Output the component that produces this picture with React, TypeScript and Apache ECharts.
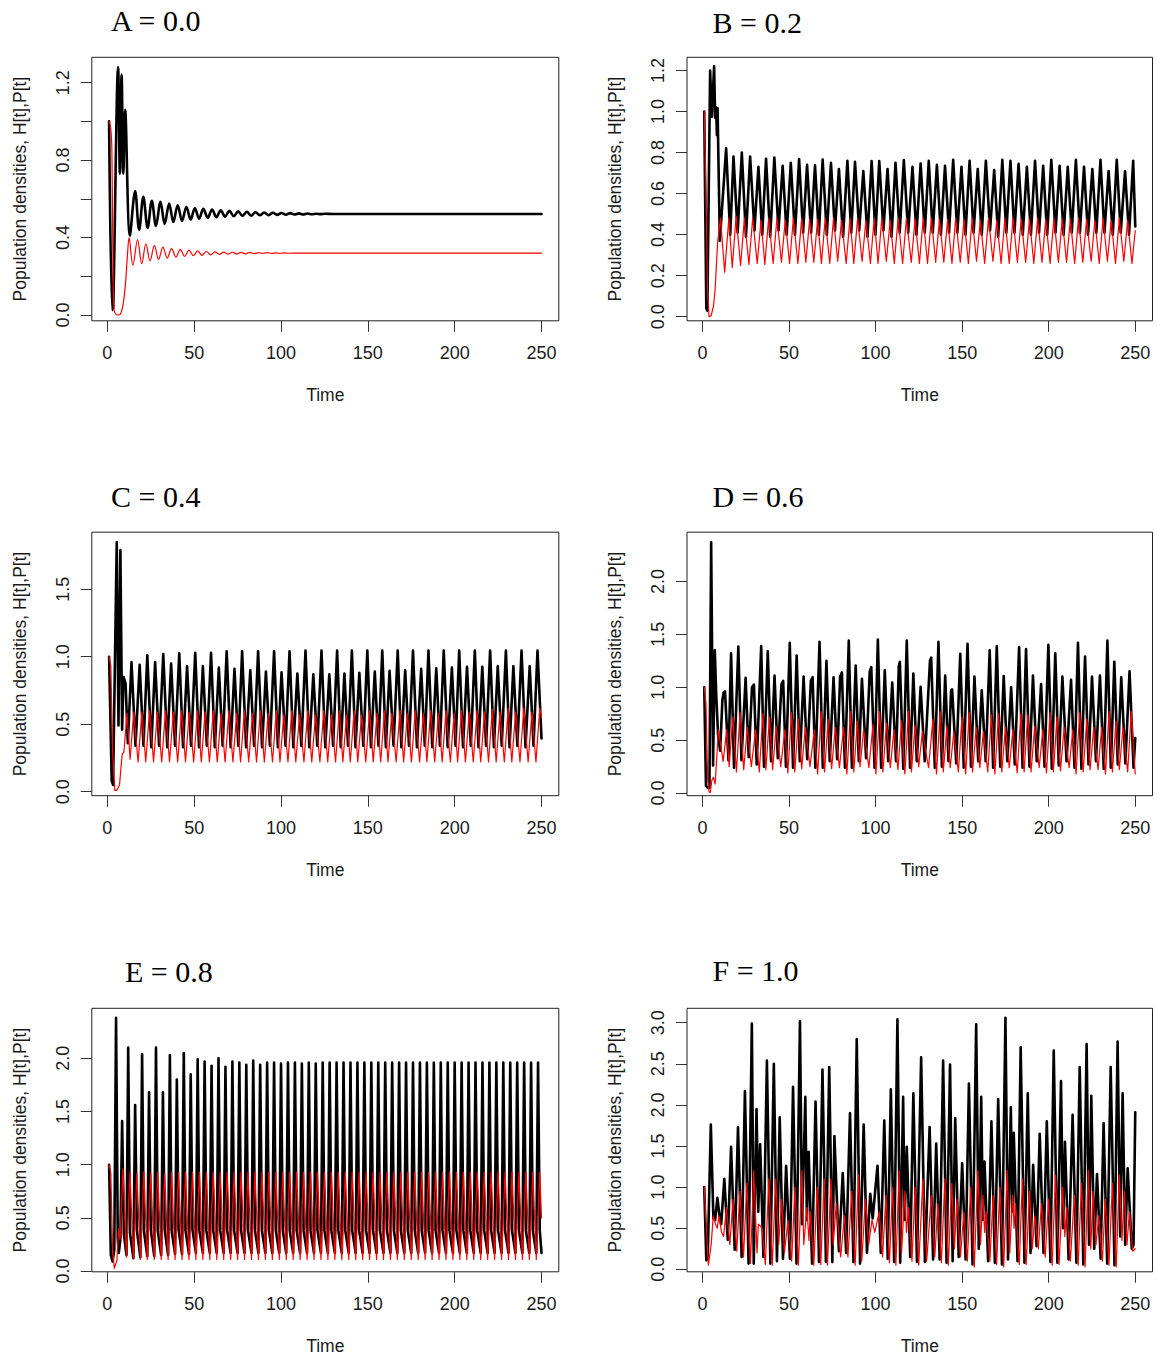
import React, { useEffect, useRef } from "react";
import * as echarts from "echarts";

type Pt = [number, number];

// ---------------- data ----------------
const TITLES = ["A = 0.0", "B = 0.2", "C = 0.4", "D = 0.6", "E = 0.8", "F = 1.0"];
const X_NAME = "Time";
const Y_NAME = "Population densities, H[t],P[t]";
const X_TICKS = [0, 50, 100, 150, 200, 250];
const X_RANGE: [number, number] = [-8.96, 259.96];

const Y_RANGES: [number, number][] = [
  [-0.03, 1.331],
  [-0.02, 1.264],
  [-0.03, 1.923],
  [-0.025, 2.465],
  [-0.007, 2.47],
  [-0.03, 3.175],
];
const Y_TICKS: number[][] = [
  [0, 0.2, 0.4, 0.6, 0.8, 1.0, 1.2],
  [0, 0.2, 0.4, 0.6, 0.8, 1.0, 1.2],
  [0, 0.5, 1.0, 1.5],
  [0, 0.5, 1.0, 1.5, 2.0],
  [0, 0.5, 1.0, 1.5, 2.0],
  [0, 0.5, 1.0, 1.5, 2.0, 2.5, 3.0],
];
const Y_LABELS: number[][] = [
  [0, 0.4, 0.8, 1.2],
  [0, 0.2, 0.4, 0.6, 0.8, 1.0, 1.2],
  [0, 0.5, 1.0, 1.5],
  [0, 0.5, 1.0, 1.5, 2.0],
  [0, 0.5, 1.0, 1.5, 2.0],
  [0, 0.5, 1.0, 1.5, 2.0, 2.5, 3.0],
];

// Panel A (H black, P red)
const A_H: Pt[] = [[1,1.0],[2.8,0.025],[3.4,0.04],[6.2,1.28],[7.2,0.73],[8.2,1.24],[9.2,0.73],[10.2,1.06],[13,0.41],[16,0.64],[18.3,0.44],[20.7,0.61],[23.2,0.45],[25.6,0.59],[28,0.46],[30.6,0.585],[33,0.47],[35.6,0.575],[38,0.48],[40.5,0.567],[43,0.486],[45.5,0.558],[48,0.493],[50.4,0.553],[52.8,0.498],[55.3,0.548],[57.8,0.502],[60.3,0.545],[62.8,0.505],[65.3,0.541],[67.8,0.508],[70.3,0.538],[72.8,0.51],[75.3,0.535],[77.8,0.512],[80.3,0.533],[82.8,0.513],[85.3,0.531],[87.8,0.515],[90.3,0.529],[92.8,0.516],[95.3,0.528],[97.8,0.517],[100.3,0.527],[102.8,0.518],[105.3,0.526],[107.8,0.519],[110.3,0.525],[112.8,0.519],[115.3,0.524],[117.8,0.52],[120.3,0.523],[122.8,0.521],[125.3,0.523],[130,0.522],[250,0.522]];
const A_P: Pt[] = [[1,1.0],[2,0.96],[2.6,0.85],[3.2,0.3],[3.8,0.03],[5,0.003],[6.5,0.0],[7.5,0.005],[8.5,0.03],[9.5,0.08],[10.5,0.17],[11.5,0.3],[12.5,0.4],[14.7,0.256],[17.4,0.389],[19.8,0.265],[22.2,0.368],[24.6,0.28],[27.1,0.36],[29.5,0.287],[32,0.351],[34.5,0.294],[37,0.343],[39.5,0.299],[42,0.339],[44.5,0.302],[47,0.335],[49.5,0.306],[52,0.331],[54.5,0.308],[57,0.328],[59.5,0.311],[62,0.326],[64.5,0.313],[67,0.325],[69.5,0.314],[72,0.324],[74.5,0.315],[77,0.323],[79.5,0.316],[82,0.323],[84.5,0.317],[87,0.322],[89.5,0.318],[92,0.322],[94.5,0.318],[97,0.321],[99.5,0.319],[102,0.321],[104.5,0.319],[110,0.32],[250,0.32]];

// Panel B
const B_H: Pt[] = [[1,1.0],[2.2,0.04],[2.8,0.03],[4.4,1.2],[5.4,0.975],[6.7,1.22],[7.3,0.97],[7.9,1.02],[8.3,0.885],[8.7,1.015],[10,0.37],[13.65,0.82],[16,0.4],[17.9,0.78],[20.3,0.41],[22.7,0.8],[25.1,0.39],[27.5,0.78],[30,0.42],[32.3,0.73],[34.5,0.4],[36.7,0.77],[39.1,0.39],[41.5,0.775],[43.9,0.42],[46.3,0.735],[48.6,0.4],[51,0.75],[53.4,0.4],[55.8,0.768],[58.1,0.41],[60.4,0.74],[62.7,0.41],[65,0.738],[67.2,0.4],[69.4,0.766],[71.8,0.4],[74.2,0.75],[76.5,0.42],[78.8,0.72],[81.2,0.39],[83.7,0.76],[85.9,0.41],[88.1,0.755],[90.5,0.42],[92.9,0.71],[95.3,0.39],[97.7,0.758],[99.9,0.4],[102.1,0.758],[104.5,0.42],[106.9,0.72],[109.2,0.39],[111.5,0.75],[113.9,0.41],[116.3,0.763],[118.8,0.41],[121.3,0.73],[123.6,0.4],[126,0.746],[128.4,0.41],[130.7,0.76],[133,0.41],[135.4,0.74],[137.7,0.4],[140.1,0.735],[142.4,0.41],[144.8,0.765],[147.2,0.41],[149.6,0.73],[151.9,0.4],[154.3,0.76],[156.6,0.41],[159,0.72],[161.3,0.4],[163.7,0.76],[166.1,0.42],[168.5,0.715],[170.8,0.39],[173.2,0.765],[175.5,0.41],[177.9,0.76],[180.2,0.41],[182.6,0.745],[185,0.4],[187.4,0.73],[189.7,0.4],[192.1,0.76],[194.4,0.41],[196.8,0.735],[199.1,0.4],[201.5,0.765],[203.9,0.41],[206.3,0.735],[208.6,0.4],[211,0.73],[213.3,0.41],[215.7,0.765],[218,0.41],[220.4,0.73],[222.7,0.4],[225.2,0.72],[227.5,0.41],[229.9,0.765],[232.2,0.41],[234.6,0.71],[237,0.4],[239.3,0.765],[241.6,0.41],[244.1,0.71],[246.4,0.4],[248.8,0.76],[250,0.44]];
const B_P: Pt[] = [[1,1.0],[2,0.62],[2.9,0.13],[3.8,0.0],[5,0.005],[6.3,0.05],[7.3,0.135],[8.7,0.36],[10.4,0.48],[12.8,0.217],[15.2,0.48],[17.2,0.24],[19.4,0.49],[22,0.25],[24.2,0.48],[26.8,0.255],[29,0.48],[31.6,0.26],[33.8,0.47],[36,0.255],[38.2,0.48],[40.8,0.26],[43,0.48],[45.6,0.265],[47.8,0.47],[50.3,0.26],[52.5,0.48],[55.1,0.26],[57.3,0.48],[59.7,0.265],[61.9,0.475],[64.3,0.265],[66.5,0.475],[68.7,0.26],[70.9,0.48],[73.5,0.26],[75.7,0.48],[78.1,0.27],[80.3,0.47],[83,0.26],[85.2,0.48],[87.4,0.26],[89.6,0.48],[92.2,0.27],[94.4,0.47],[97,0.26],[99.2,0.48],[101.4,0.26],[103.6,0.48],[106.2,0.27],[108.4,0.47],[110.8,0.26],[113,0.48],[115.6,0.26],[117.8,0.48],[120.6,0.265],[122.8,0.475],[125.3,0.26],[127.5,0.48],[130,0.26],[132.2,0.48],[134.7,0.265],[136.9,0.475],[139.4,0.265],[141.6,0.475],[144.1,0.26],[146.3,0.48],[148.9,0.265],[151.1,0.475],[153.6,0.26],[155.8,0.48],[158.3,0.27],[160.5,0.47],[163,0.26],[165.2,0.48],[167.8,0.27],[170,0.47],[172.5,0.26],[174.7,0.48],[177.2,0.26],[179.4,0.48],[181.9,0.265],[184.1,0.475],[186.7,0.265],[188.9,0.475],[191.4,0.26],[193.6,0.48],[196.1,0.265],[198.3,0.475],[200.8,0.26],[203,0.48],[205.6,0.265],[207.8,0.475],[210.3,0.265],[212.5,0.475],[215,0.26],[217.2,0.48],[219.7,0.265],[221.9,0.475],[224.5,0.27],[226.7,0.47],[229.2,0.26],[231.4,0.48],[233.9,0.27],[236.1,0.47],[238.6,0.26],[240.8,0.48],[243.4,0.27],[245.6,0.47],[248.1,0.26],[250,0.42]];

// Panel C
const C_H: Pt[] = [[1,1.0],[2.5,0.08],[3.3,0.05],[5.4,1.85],[6.4,0.49],[7.5,1.79],[8.5,0.46],[9.3,0.85],[10.5,0.8],[11.8,0.36],[13.9,0.96],[16.2,0.34],[18.6,0.94],[20.8,0.34],[23,1.01],[25.3,0.33],[27.5,0.96],[29.8,0.34],[32.2,1.02],[34.5,0.33],[36.7,0.95],[39,0.34],[41.4,1.025],[43.6,0.33],[45.9,0.93],[48.2,0.34],[50.6,1.03],[52.8,0.33],[55,0.93],[57.3,0.34],[59.7,1.03],[61.9,0.33],[64.2,0.92],[66.4,0.34],[68.7,1.04],[71,0.33],[73.2,0.91],[75.4,0.34],[77.6,1.04],[79.9,0.33],[82.3,0.9],[84.5,0.34],[86.8,1.04],[89.1,0.33],[91.3,0.89],[93.6,0.34],[96,1.04],[98.2,0.33],[100.3,0.885],[102.6,0.34],[104.9,1.04],[107.1,0.33],[109.4,0.875],[111.7,0.34],[114.1,1.045],[116.3,0.33],[118.6,0.87],[120.9,0.34],[123.3,1.045],[125.5,0.33],[127.8,0.87],[130,0.34],[132.3,1.045],[134.4,0.33],[136.5,0.875],[138.6,0.34],[140.8,1.045],[142.9,0.33],[145.1,0.88],[147.4,0.34],[149.7,1.045],[151.8,0.33],[154,0.89],[156.1,0.34],[158.3,1.045],[160.4,0.33],[162.5,0.895],[164.8,0.34],[167.2,1.045],[169.3,0.33],[171.5,0.9],[173.7,0.34],[176,1.045],[178.3,0.33],[180.7,0.91],[182.8,0.34],[184.9,1.045],[187.1,0.33],[189.4,0.915],[191.5,0.34],[193.7,1.045],[196,0.33],[198.4,0.92],[200.5,0.34],[202.6,1.045],[204.8,0.33],[207.1,0.925],[209.3,0.34],[211.6,1.045],[213.7,0.33],[215.9,0.925],[218.1,0.34],[220.4,1.045],[222.6,0.33],[224.8,0.93],[227.1,0.34],[229.5,1.045],[231.6,0.33],[233.8,0.93],[236.1,0.34],[238.5,1.045],[240.8,0.33],[243.2,0.93],[245.4,0.34],[247.7,1.045],[250,0.395]];
const C_P: Pt[] = [[1,1.0],[2,0.93],[3,0.3],[4.3,0.01],[5.5,0.01],[7,0.05],[8,0.2],[8.6,0.28],[9.5,0.29],[10.5,0.45],[11.3,0.58],[13.1,0.24],[15.2,0.59],[17.7,0.22],[19.9,0.59],[22.1,0.22],[24.3,0.6],[26.6,0.22],[28.8,0.59],[31.3,0.22],[33.5,0.6],[35.8,0.22],[38,0.59],[40.5,0.22],[42.7,0.6],[45,0.22],[47.2,0.59],[49.7,0.22],[51.9,0.6],[54.1,0.22],[56.3,0.59],[58.8,0.22],[61,0.6],[63.3,0.22],[65.5,0.58],[67.8,0.22],[70,0.6],[72.3,0.22],[74.5,0.58],[76.7,0.22],[78.9,0.6],[81.4,0.22],[83.6,0.58],[85.9,0.22],[88.1,0.6],[90.4,0.22],[92.6,0.58],[95.1,0.22],[97.3,0.6],[99.4,0.22],[101.6,0.57],[104,0.22],[106.2,0.6],[108.5,0.22],[110.7,0.57],[113.2,0.22],[115.4,0.6],[117.7,0.22],[119.9,0.57],[122.4,0.22],[124.6,0.6],[126.9,0.22],[129.1,0.57],[131.4,0.22],[133.6,0.6],[135.6,0.22],[137.8,0.57],[139.9,0.22],[142.1,0.6],[144.2,0.22],[146.4,0.57],[148.8,0.22],[151,0.6],[153.1,0.22],[155.3,0.58],[157.4,0.22],[159.6,0.6],[161.6,0.22],[163.8,0.58],[166.3,0.22],[168.5,0.6],[170.6,0.22],[172.8,0.58],[175.1,0.22],[177.3,0.6],[179.8,0.22],[182,0.58],[184,0.22],[186.2,0.6],[188.5,0.22],[190.7,0.58],[192.8,0.22],[195,0.6],[197.5,0.22],[199.7,0.58],[201.7,0.22],[203.9,0.6],[206.2,0.22],[208.4,0.59],[210.7,0.22],[212.9,0.6],[215,0.22],[217.2,0.59],[219.5,0.22],[221.7,0.61],[223.9,0.22],[226.1,0.59],[228.6,0.22],[230.8,0.62],[232.9,0.22],[235.1,0.59],[237.6,0.22],[239.8,0.62],[242.3,0.22],[244.5,0.59],[246.8,0.22],[249,0.62],[250,0.55]];

// Panel D
const D_H: Pt[] = [[1,1.0],[2,0.07],[3,0.05],[4,0.05],[5,2.37],[6.1,0.26],[7.1,1.35],[8,0.9],[9,0.55],[10.2,0.4],[11.5,0.88],[12.2,0.95],[13,0.96],[15,0.31],[16.5,1.32],[18.2,0.24],[20.7,1.385],[22.5,0.31],[24.9,1.09],[26.7,0.34],[28.6,1.0],[29.7,1.025],[31.3,0.27],[33.9,1.39],[35.5,0.25],[37.7,1.34],[39.6,0.3],[41.6,1.11],[43.5,0.33],[45.6,1.03],[46.6,1.06],[48.2,0.25],[50.4,1.42],[52.3,0.24],[54.4,1.3],[56.2,0.3],[58.4,1.1],[60.5,0.32],[62.6,1.06],[63.6,1.095],[65.2,0.24],[67.6,1.43],[69.5,0.24],[71.6,1.25],[73.5,0.3],[75.7,1.095],[77.8,0.32],[79.5,1.1],[80.5,1.14],[82.3,0.24],[84.5,1.44],[86.3,0.24],[88.5,1.205],[90.3,0.3],[92.1,1.08],[94.5,0.33],[96.6,1.15],[97.5,1.19],[99.4,0.24],[101.3,1.45],[103.2,0.24],[105.3,1.16],[107.3,0.3],[109.6,1.045],[111.8,0.3],[113.4,1.2],[114,1.24],[116,0.23],[118,1.44],[119.9,0.24],[121.8,1.13],[123.8,0.3],[126,1.005],[128.4,0.3],[131.4,1.25],[132.1,1.28],[134.2,0.24],[136.3,1.43],[138.3,0.25],[140.2,1.11],[142.1,0.3],[143.6,0.97],[144.2,0.98],[146.6,0.28],[148.9,1.315],[150.9,0.24],[153.1,1.41],[155.1,0.25],[157.1,1.1],[159.3,0.3],[161.3,0.97],[163.6,0.3],[165.9,1.35],[167.9,0.24],[170,1.39],[172,0.25],[174,1.105],[176.1,0.3],[178.3,1.0],[180.4,0.27],[182.9,1.38],[184.9,0.24],[186.9,1.36],[188.9,0.25],[190.9,1.11],[193.1,0.3],[195.6,1.03],[197.6,0.25],[199.8,1.4],[201.8,0.23],[203.8,1.32],[205.8,0.26],[207.9,1.1],[210.3,0.3],[212.9,1.07],[214.9,0.24],[216.9,1.42],[218.9,0.23],[221,1.29],[223,0.27],[225,1.1],[227.3,0.3],[229.6,1.11],[231.8,0.23],[233.9,1.44],[235.9,0.24],[237.9,1.24],[239.9,0.27],[241.9,1.095],[244.3,0.28],[246.7,1.15],[249,0.24],[250,0.52]];
const D_P: Pt[] = [[1,1.0],[2,0.85],[3,0.12],[3.8,0.01],[4.5,0.005],[5.4,0.12],[6.3,0.15],[7.3,0.085],[9.2,0.6],[11.9,0.3],[14,0.6],[15.4,0.25],[17.5,0.72],[19.6,0.2],[21.7,0.76],[23.8,0.22],[25.9,0.62],[28.2,0.25],[30.7,0.6],[32.8,0.2],[34.9,0.75],[36.6,0.22],[38.7,0.72],[40.5,0.22],[42.6,0.63],[45.2,0.25],[47.6,0.6],[49.3,0.19],[51.4,0.76],[53.3,0.2],[55.4,0.7],[57.3,0.23],[59.4,0.62],[62.1,0.25],[64.6,0.6],[66.5,0.18],[68.6,0.77],[70.5,0.2],[72.6,0.7],[74.6,0.23],[76.7,0.62],[79.1,0.24],[81.5,0.62],[83.4,0.18],[85.5,0.77],[87.4,0.2],[89.5,0.68],[91,0.25],[93.1,0.6],[96.1,0.24],[98.5,0.65],[100.2,0.18],[102.3,0.77],[104.2,0.2],[106.3,0.66],[108.5,0.24],[110.6,0.6],[112.9,0.22],[115,0.68],[116.9,0.18],[119,0.77],[120.7,0.2],[122.8,0.64],[124.9,0.25],[127,0.58],[130.6,0.24],[133.1,0.7],[135.2,0.18],[137.3,0.77],[139.1,0.2],[141.2,0.63],[143.1,0.24],[145.2,0.58],[147.8,0.2],[149.9,0.72],[152,0.18],[154.1,0.76],[156,0.2],[158.1,0.62],[160.2,0.24],[162.3,0.58],[164.8,0.2],[166.9,0.74],[168.9,0.18],[171,0.75],[172.9,0.2],[175,0.62],[177.2,0.24],[179.3,0.6],[181.8,0.19],[183.9,0.75],[185.8,0.2],[187.9,0.74],[189.8,0.2],[191.9,0.63],[194.5,0.24],[196.6,0.6],[198.7,0.19],[200.8,0.76],[202.7,0.2],[204.8,0.72],[206.8,0.21],[208.9,0.62],[211.8,0.24],[213.9,0.6],[215.8,0.18],[217.9,0.76],[219.9,0.2],[222,0.7],[223.9,0.22],[226,0.62],[228.5,0.22],[230.6,0.62],[232.8,0.18],[234.9,0.77],[236.8,0.2],[238.9,0.68],[240.8,0.22],[242.9,0.62],[245.6,0.2],[247.7,0.77],[250,0.18]];

// Panel E
const E_H: Pt[] = [[1,1.0],[2,0.15],[3,0.09],[4,0.2],[5,2.38],[6,0.3],[6.6,0.17],[7.5,0.3],[8.5,1.41],[9.5,0.35],[11,0.15],[12,2.1],[13,0.36],[15,0.12],[16,1.56],[17,0.38],[19,0.13],[20,2.04],[21,0.38],[23,0.14],[24,1.68],[25,0.39],[27,0.14],[28,2.1],[29,0.38],[31,0.15],[32,1.68],[33,0.39],[35,0.15],[36,2.03],[37,0.38],[39,0.16],[40,1.8],[41,0.39],[43,0.16],[44,2.05],[45,0.38],[47,0.16],[48,1.85],[49,0.39],[51,0.17],[52,1.99],[53,0.38],[55,0.17],[56,1.97],[57,0.38],[59,0.17],[60,1.93],[61,0.38],[63,0.17],[64,2.0],[65,0.38],[67,0.17],[68,1.92],[69,0.38],[71,0.17],[72,1.97],[73,0.38],[75,0.17],[76,1.96],[77,0.38],[79,0.17],[80,1.94],[81,0.38],[83,0.17],[84,1.98],[85,0.38],[87,0.17],[88,1.94],[89,0.38],[91,0.17],[92,1.96],[93,0.38],[95,0.17],[96,1.96],[97,0.38],[99,0.17],[100,1.95],[101,0.38],[103,0.17],[104,1.96],[105,0.38],[107,0.17],[108,1.96],[109,0.38],[111,0.17],[112,1.95],[113,0.38],[115,0.17],[116,1.96],[117,0.38],[119,0.17],[120,1.95],[121,0.38],[123,0.17],[124,1.96],[125,0.38],[127,0.17],[128,1.96],[129,0.38],[131,0.17],[132,1.96],[133,0.38],[135,0.17],[136,1.96],[137,0.38],[139,0.17],[140,1.96],[141,0.38],[143,0.17],[144,1.96],[145,0.38],[147,0.17],[148,1.96],[149,0.38],[151,0.17],[152,1.96],[153,0.38],[155,0.17],[156,1.96],[157,0.38],[159,0.17],[160,1.96],[161,0.38],[163,0.17],[164,1.96],[165,0.38],[167,0.17],[168,1.96],[169,0.38],[171,0.17],[172,1.96],[173,0.38],[175,0.17],[176,1.96],[177,0.38],[179,0.17],[180,1.96],[181,0.38],[183,0.17],[184,1.96],[185,0.38],[187,0.17],[188,1.96],[189,0.38],[191,0.17],[192,1.96],[193,0.38],[195,0.17],[196,1.96],[197,0.38],[199,0.17],[200,1.96],[201,0.38],[203,0.17],[204,1.96],[205,0.38],[207,0.17],[208,1.96],[209,0.38],[211,0.17],[212,1.96],[213,0.38],[215,0.17],[216,1.96],[217,0.38],[219,0.17],[220,1.96],[221,0.38],[223,0.17],[224,1.96],[225,0.38],[227,0.17],[228,1.96],[229,0.38],[231,0.17],[232,1.96],[233,0.38],[235,0.17],[236,1.96],[237,0.38],[239,0.17],[240,1.96],[241,0.38],[243,0.17],[244,1.96],[245,0.38],[247,0.17],[248,1.96],[249,0.38],[250,0.17]];
const E_P: Pt[] = [[1,1.0],[2,0.92],[3,0.2],[4,0.025],[5.5,0.1],[6.5,0.4],[7.3,0.3],[9,0.96],[11,0.13],[13,0.93],[15,0.12],[17,0.92],[19,0.11],[21,0.93],[23,0.11],[25,0.92],[27,0.11],[29,0.93],[31,0.11],[33,0.92],[35,0.11],[37,0.93],[39,0.11],[41,0.93],[43,0.11],[45,0.93],[47,0.11],[49,0.93],[51,0.11],[53,0.93],[55,0.11],[57,0.93],[59,0.11],[61,0.93],[63,0.11],[65,0.93],[67,0.11],[69,0.93],[71,0.11],[73,0.93],[75,0.11],[77,0.93],[79,0.11],[81,0.93],[83,0.11],[85,0.93],[87,0.11],[89,0.93],[91,0.11],[93,0.93],[95,0.11],[97,0.93],[99,0.11],[101,0.93],[103,0.11],[105,0.93],[107,0.11],[109,0.93],[111,0.11],[113,0.93],[115,0.11],[117,0.93],[119,0.11],[121,0.93],[123,0.11],[125,0.93],[127,0.11],[129,0.93],[131,0.11],[133,0.93],[135,0.11],[137,0.93],[139,0.11],[141,0.93],[143,0.11],[145,0.93],[147,0.11],[149,0.93],[151,0.11],[153,0.93],[155,0.11],[157,0.93],[159,0.11],[161,0.93],[163,0.11],[165,0.93],[167,0.11],[169,0.93],[171,0.11],[173,0.93],[175,0.11],[177,0.93],[179,0.11],[181,0.93],[183,0.11],[185,0.93],[187,0.11],[189,0.93],[191,0.11],[193,0.93],[195,0.11],[197,0.93],[199,0.11],[201,0.93],[203,0.11],[205,0.93],[207,0.11],[209,0.93],[211,0.11],[213,0.93],[215,0.11],[217,0.93],[219,0.11],[221,0.93],[223,0.11],[225,0.93],[227,0.11],[229,0.93],[231,0.11],[233,0.93],[235,0.11],[237,0.93],[239,0.11],[241,0.93],[243,0.11],[245,0.93],[247,0.11],[249,0.93],[250,0.5]];

// Panel F
const F_H: Pt[] = [[1,1.0],[2.2,0.11],[3,0.13],[4.8,1.76],[6.3,0.62],[7.3,0.6],[8.6,0.87],[10,0.62],[10.8,0.55],[12.6,1.1],[14.6,0.36],[16.5,1.49],[18.6,0.24],[20.5,1.73],[22.6,0.15],[24.5,2.17],[26.6,0.07],[28.5,2.99],[29.6,0.07],[31.2,1.95],[32.2,0.7],[33.3,1.52],[35.2,0.15],[37.2,2.54],[39.2,0.07],[41.2,2.5],[43,0.1],[44.6,1.85],[46.5,0.13],[48.3,1.26],[50.5,0.13],[52.3,2.22],[54.3,0.07],[56.3,3.02],[57.5,0.55],[59.4,2.1],[60.3,0.6],[61.3,1.43],[63.3,0.07],[65.3,2.04],[67.3,0.09],[69.3,2.43],[71.3,0.09],[73.2,2.46],[75,0.09],[76.2,1.62],[78.8,0.22],[81,1.17],[83,0.2],[85.2,1.9],[87.2,0.09],[89.1,2.8],[91,0.07],[93.1,1.76],[95,0.2],[96.9,0.92],[98.3,0.62],[101.1,1.26],[103,0.2],[105,1.81],[107,0.13],[108.8,2.19],[110.7,0.09],[112.6,3.04],[114.2,0.08],[115.9,2.1],[116.8,0.6],[118,1.49],[120,0.15],[121.8,2.14],[123.9,0.09],[126.3,2.58],[128.5,0.09],[131.2,1.73],[133.2,0.12],[135,1.53],[137,0.12],[139,2.54],[141,0.08],[143,2.49],[144.5,0.1],[146,1.84],[148,0.15],[150,1.29],[152,0.12],[153.9,2.26],[156,0.06],[158.1,2.98],[159.6,0.25],[161,2.1],[162,0.6],[162.9,1.31],[165,0.1],[166.9,1.8],[168.9,0.08],[170.8,2.07],[173,0.06],[175,3.06],[176.5,0.12],[178.1,1.97],[179,0.7],[179.8,1.66],[182,0.1],[183.8,2.7],[186,0.08],[187.9,2.14],[189.5,0.2],[191,1.27],[193,0.28],[194.8,1.65],[197,0.2],[198.9,1.8],[201,0.09],[202.9,2.66],[205,0.08],[207.1,2.29],[208.3,0.5],[209.4,1.55],[211.5,0.12],[213.8,1.88],[216,0.08],[217.9,2.46],[220,0.06],[221.9,2.74],[223.3,0.3],[224.6,2.11],[226.3,0.25],[227.9,1.16],[230,0.13],[231.7,1.78],[233.8,0.07],[235.8,2.46],[238,0.05],[239.8,2.77],[241.3,0.4],[242.7,2.14],[244.2,0.3],[245.6,1.23],[248,0.25],[249,0.3],[250,1.91]];
const F_P: Pt[] = [[1,1.0],[2,0.6],[3.4,0.05],[5,0.3],[6.2,0.65],[7.5,0.55],[8.5,0.5],[9.5,0.65],[11,0.45],[12.2,0.4],[13.8,0.75],[15.8,0.3],[17.6,0.85],[19.8,0.22],[21.6,0.95],[23.7,0.15],[25.6,1.05],[27.7,0.07],[29.6,1.2],[31.5,0.2],[32.3,0.55],[34.4,0.5],[36.3,0.06],[38.3,1.1],[40.3,0.05],[42.3,1.1],[44,0.3],[45.7,0.85],[47.3,0.2],[49.4,0.6],[51.5,0.1],[53.4,1.0],[55.4,0.05],[57.4,1.2],[58.5,0.3],[60.3,0.75],[61.5,0.35],[62.3,0.7],[64.3,0.05],[66.3,1.0],[68.3,0.06],[70.3,1.1],[72.2,0.05],[74.2,1.1],[75.5,0.3],[77.3,0.8],[79.8,0.15],[82,0.65],[84,0.15],[86.2,0.95],[88.2,0.05],[90.1,1.15],[92,0.1],[94.1,0.85],[96,0.3],[97.9,0.6],[99.5,0.45],[102.1,0.7],[104,0.15],[106,0.9],[108,0.08],[109.8,1.0],[111.7,0.05],[113.6,1.2],[115,0.2],[116.9,0.95],[117.8,0.45],[119,0.75],[121,0.1],[122.8,1.0],[124.9,0.05],[127.3,1.1],[129.5,0.1],[132.2,0.9],[134.2,0.15],[136,0.8],[138,0.08],[140,1.1],[142,0.05],[144,1.05],[145.5,0.25],[147,0.85],[149,0.15],[151,0.7],[153,0.1],[154.9,1.0],[157,0.03],[159.1,1.2],[160.6,0.3],[162,0.9],[163,0.45],[163.9,0.7],[166,0.1],[167.9,0.9],[169.9,0.06],[171.8,1.0],[174,0.03],[176,1.2],[177.5,0.2],[179.1,0.9],[180,0.5],[180.8,0.8],[183,0.06],[184.8,1.1],[187,0.06],[188.9,0.95],[190.5,0.25],[192,0.65],[194,0.25],[195.8,0.8],[198,0.15],[199.9,0.85],[202,0.05],[203.9,1.15],[206,0.06],[208.1,1.0],[209.3,0.4],[210.4,0.75],[212.5,0.1],[214.8,0.9],[217,0.05],[218.9,1.05],[221,0.03],[222.9,1.2],[224.3,0.25],[225.6,0.95],[227.3,0.3],[228.9,0.65],[231,0.1],[232.7,0.85],[234.8,0.05],[236.8,1.05],[239,0.03],[240.8,1.15],[242.3,0.35],[243.7,0.95],[245.2,0.3],[246.6,0.7],[248.5,0.22],[250,0.25]];

const H_SERIES = [A_H, B_H, C_H, D_H, E_H, F_H];
const P_SERIES = [A_P, B_P, C_P, D_P, E_P, F_P];

// ---------------- layout / style ----------------
const W = 1157;
const H = 1358;
const COL_LEFT = [91.8, 687];
const COL_WIDTH = [467, 465.5];
const ROW_TOP = [57.3, 532.2, 1008.3];
const BOX_H = 263.5;
const TITLE_POS: [number, number][] = [
  [111, 20], [712.5, 22], [111, 496.5], [712.5, 496.5], [125, 971.5], [712.5, 970],
];
const SMOOTH = [0.35, 0, 0, 0, 0, 0];
const SANS = '"Liberation Sans", Arial, Helvetica, sans-serif';
const SERIF = '"Liberation Serif", "Times New Roman", serif';
const TICK_COLOR = "#333";
const TEXT_COLOR = "#1a1a1a";

export default function App() {
  const ref = useRef<HTMLDivElement>(null);

  useEffect(() => {
    document.body.style.margin = "0";
    const el = ref.current;
    if (!el) return;
    const chart = echarts.init(el, null, { renderer: "svg", width: W, height: H });

    const boxes = TITLES.map((_, i) => {
      const col = i % 2;
      const row = Math.floor(i / 2);
      return { left: COL_LEFT[col], top: ROW_TOP[row], width: COL_WIDTH[col], height: BOX_H };
    });

    const grid = boxes.map((b) => ({
      left: b.left,
      top: b.top,
      width: b.width,
      height: b.height,
      show: true,
      borderColor: "#222",
      borderWidth: 1,
      backgroundColor: "transparent",
      containLabel: false,
    }));

    const xAxis = boxes.map((_, i) => ({
      type: "value",
      gridIndex: i,
      min: X_RANGE[0],
      max: X_RANGE[1],
      axisLine: { show: false, onZero: false },
      splitLine: { show: false },
      axisTick: { show: true, inside: false, length: 11, customValues: X_TICKS, lineStyle: { color: TICK_COLOR, width: 1 } },
      axisLabel: {
        show: true,
        customValues: X_TICKS,
        margin: 23,
        fontSize: 18,
        fontFamily: SANS,
        color: TEXT_COLOR,
      },
    }));

    const yAxis = boxes.map((_, i) => ({
      type: "value",
      gridIndex: i,
      min: Y_RANGES[i][0],
      max: Y_RANGES[i][1],
      axisLine: { show: false, onZero: false },
      splitLine: { show: false },
      axisTick: { show: true, inside: false, length: 11, customValues: Y_TICKS[i], lineStyle: { color: TICK_COLOR, width: 1 } },
      axisLabel: {
        show: true,
        customValues: Y_LABELS[i],
        rotate: 90,
        margin: 20,
        fontSize: 18,
        fontFamily: SANS,
        color: TEXT_COLOR,
        formatter: (v: number) => v.toFixed(1),
      },
    }));

    const series: any[] = [];
    H_SERIES.forEach((data, i) => {
      series.push({
        type: "line",
        xAxisIndex: i,
        yAxisIndex: i,
        data,
        symbol: "none",
        showSymbol: false,
        silent: true,
        clip: true,
        smooth: SMOOTH[i] || false,
        z: 2,
        lineStyle: { color: "#000000", width: 2.6, cap: "round", join: "round" },
      });
    });
    P_SERIES.forEach((data, i) => {
      series.push({
        type: "line",
        xAxisIndex: i,
        yAxisIndex: i,
        data,
        symbol: "none",
        showSymbol: false,
        silent: true,
        clip: true,
        smooth: SMOOTH[i] || false,
        z: 3,
        lineStyle: { color: "#ff0000", width: 1.2, cap: "round", join: "round" },
      });
    });

    const graphic: any[] = [];
    boxes.forEach((b, i) => {
      graphic.push({
        type: "text",
        x: TITLE_POS[i][0],
        y: TITLE_POS[i][1],
        silent: true,
        style: {
          text: TITLES[i],
          font: `30px ${SERIF}`,
          fill: "#000",
          textAlign: "left",
          textVerticalAlign: "middle",
          align: "left",
          verticalAlign: "middle",
        },
      });
      graphic.push({
        type: "text",
        x: b.left + b.width / 2,
        y: b.top + b.height + 74.5,
        silent: true,
        style: {
          text: X_NAME,
          font: `17.5px ${SANS}`,
          fill: TEXT_COLOR,
          textAlign: "center",
          textVerticalAlign: "middle",
          align: "center",
          verticalAlign: "middle",
        },
      });
      graphic.push({
        type: "text",
        x: b.left - 72,
        y: b.top + b.height / 2,
        rotation: Math.PI / 2,
        silent: true,
        style: {
          text: Y_NAME,
          font: `17.5px ${SANS}`,
          fill: TEXT_COLOR,
          textAlign: "center",
          textVerticalAlign: "middle",
          align: "center",
          verticalAlign: "middle",
        },
      });
    });

    chart.setOption({
      animation: false,
      backgroundColor: "#ffffff",
      grid,
      xAxis,
      yAxis,
      series,
      graphic,
    } as any);

    return () => {
      chart.dispose();
    };
  }, []);

  return <div ref={ref} style={{ width: W, height: H, background: "#fff" }} />;
}
